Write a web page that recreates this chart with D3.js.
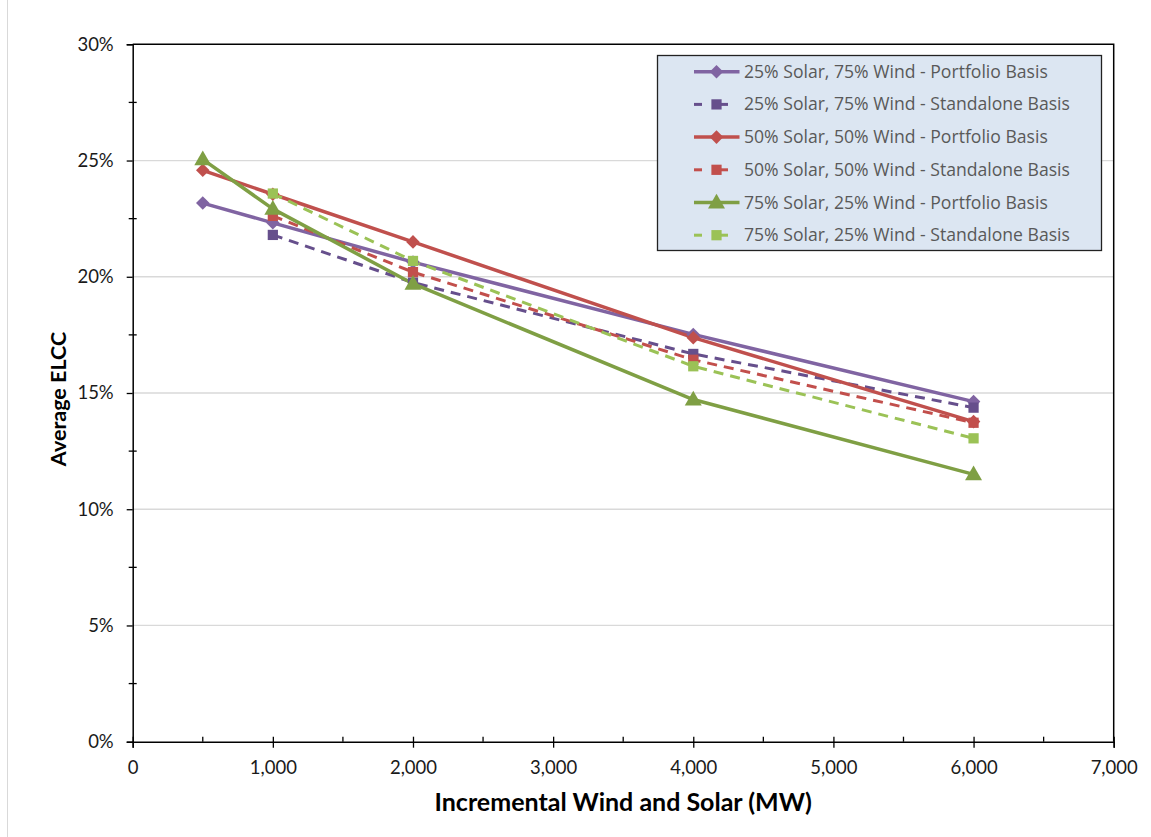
<!DOCTYPE html>
<html>
<head>
<meta charset="utf-8">
<script src="https://cdn.jsdelivr.net/npm/d3@7"></script>
<style>
  body { margin: 0; background: #fff; }
  svg { display: block; }
</style>
</head>
<body>
<svg id="chart" width="1151" height="837"></svg>
<script>
// Incremental capacity (MW)
const xValues = [500, 1000, 2000, 4000, 6000];

// Average ELCC by mix (fractions); standalone series start at 1,000 MW
const solar25Portfolio = [0.2317, 0.2232, 0.2063, 0.1752, 0.1463];
const solar25Standalone = [null, 0.2180, 0.1975, 0.1668, 0.1437];
const solar50Portfolio = [0.2458, 0.2355, 0.2150, 0.1738, 0.1377];
const solar50Standalone = [null, 0.2262, 0.2020, 0.1643, 0.1372];
const solar75Portfolio = [0.2505, 0.2292, 0.1970, 0.1472, 0.1150];
const solar75Standalone = [null, 0.2358, 0.2068, 0.1615, 0.1305];

const seriesNames = [
  "25% Solar, 75% Wind - Portfolio Basis",
  "25% Solar, 75% Wind - Standalone Basis",
  "50% Solar, 50% Wind - Portfolio Basis",
  "50% Solar, 50% Wind - Standalone Basis",
  "75% Solar, 25% Wind - Portfolio Basis",
  "75% Solar, 25% Wind - Standalone Basis"
];

const xTickValues = [0, 1000, 2000, 3000, 4000, 5000, 6000, 7000];
const yTickValues = [0, 0.05, 0.10, 0.15, 0.20, 0.25, 0.30];

const series = [
  { name: seriesNames[0], values: solar25Portfolio, color: "#8064a2", dashed: false, marker: "diamond" },
  { name: seriesNames[1], values: solar25Standalone, color: "#664f8c", dashed: true, marker: "square" },
  { name: seriesNames[2], values: solar50Portfolio, color: "#c0504d", dashed: false, marker: "diamond" },
  { name: seriesNames[3], values: solar50Standalone, color: "#c24f4c", dashed: true, marker: "square" },
  { name: seriesNames[4], values: solar75Portfolio, color: "#7f9f44", dashed: false, marker: "triangle" },
  { name: seriesNames[5], values: solar75Standalone, color: "#9bc256", dashed: true, marker: "square" }
];

const svg = d3.select("#chart");
const plot = { left: 132.7, right: 1113.7, top: 44.3, bottom: 741.7 };

const x = d3.scaleLinear().domain([0, 7000]).range([plot.left, plot.right]);
const y = d3.scaleLinear().domain([0, 0.30]).range([plot.bottom, plot.top]);

const tickFont = "Lato, 'Open Sans', sans-serif";

// Outer chart-area edge
svg.append("line")
  .attr("x1", 7.5).attr("x2", 7.5).attr("y1", 0).attr("y2", 837)
  .attr("stroke", "#d9d9d9").attr("stroke-width", 1);

// Horizontal gridlines
svg.append("g")
  .selectAll("line")
  .data(yTickValues.filter(d => d > 0 && d < 0.30))
  .join("line")
  .attr("x1", plot.left).attr("x2", plot.right)
  .attr("y1", d => y(d)).attr("y2", d => y(d))
  .attr("stroke", "#d9d9d9").attr("stroke-width", 1.3);

// Plot frame (top and right edges)
svg.append("path")
  .attr("d", `M${plot.left},${plot.top}H${plot.right}V${plot.bottom}`)
  .attr("fill", "none").attr("stroke", "#000").attr("stroke-width", 1.5);

// Y axis
const yAxis = d3.axisLeft(y)
  .tickValues(yTickValues)
  .tickFormat(d3.format(".0%"))
  .tickSize(6).tickPadding(13);
const gy = svg.append("g").attr("transform", `translate(${plot.left},0)`).call(yAxis);
gy.select(".domain").attr("stroke", "#000").attr("stroke-width", 1.5);
gy.selectAll(".tick line").attr("stroke", "#000").attr("stroke-width", 1.3);
gy.selectAll("text").attr("font-family", tickFont)
  .attr("font-size", 18.5).attr("fill", "#1a1a1a");

// Y minor ticks (crossing the axis)
svg.append("g").selectAll("line")
  .data(d3.range(0.025, 0.30, 0.05))
  .join("line")
  .attr("x1", plot.left - 4).attr("x2", plot.left + 4)
  .attr("y1", d => y(d)).attr("y2", d => y(d))
  .attr("stroke", "#000").attr("stroke-width", 1.3);

// X axis
const xAxis = d3.axisBottom(x)
  .tickValues(xTickValues)
  .tickFormat(d3.format(","))
  .tickSize(6).tickPadding(13);
const gx = svg.append("g").attr("transform", `translate(0,${plot.bottom})`).call(xAxis);
gx.select(".domain").attr("stroke", "#000").attr("stroke-width", 1.5);
gx.selectAll(".tick line").attr("y1", -5).attr("stroke", "#000").attr("stroke-width", 1.3);
gx.selectAll("text").attr("font-family", tickFont)
  .attr("font-size", 18.5).attr("fill", "#1a1a1a");

// X minor ticks (inside)
svg.append("g").selectAll("line")
  .data(d3.range(500, 7000, 1000))
  .join("line")
  .attr("x1", d => x(d)).attr("x2", d => x(d))
  .attr("y1", plot.bottom - 5).attr("y2", plot.bottom)
  .attr("stroke", "#000").attr("stroke-width", 1.3);

// Axis titles
svg.append("text")
  .attr("x", (plot.left + plot.right) / 2).attr("y", 811)
  .attr("text-anchor", "middle")
  .attr("font-family", tickFont)
  .attr("font-weight", "bold").attr("font-size", 25).attr("fill", "#000")
  .text("Incremental Wind and Solar (MW)");

svg.append("text")
  .attr("transform", `translate(66,${(plot.top + plot.bottom) / 2 + 6}) rotate(-90)`)
  .attr("text-anchor", "middle")
  .attr("font-family", tickFont)
  .attr("font-weight", "bold").attr("font-size", 21.5).attr("fill", "#000")
  .text("Average ELCC");

const line = d3.line()
  .defined(d => d[1] != null)
  .x(d => x(d[0]))
  .y(d => y(d[1]));

function markerPath(type) {
  if (type === "diamond") return d3.symbol().type(d3.symbolSquare).size(92)();
  if (type === "square") return d3.symbol().type(d3.symbolSquare).size(105)();
  return d3.symbol().type(d3.symbolTriangle).size(125)();
}
function markerTransform(type, cx, cy) {
  if (type === "diamond") return `translate(${cx},${cy}) rotate(45)`;
  if (type === "triangle") return `translate(${cx},${cy + 1})`;
  return `translate(${cx},${cy})`;
}

const gSeries = svg.append("g");
series.forEach(s => {
  const pts = xValues.map((xv, i) => [xv, s.values[i]]);
  gSeries.append("path")
    .datum(pts)
    .attr("d", line)
    .attr("fill", "none")
    .attr("stroke", s.color)
    .attr("stroke-width", s.dashed ? 3 : 3.5)
    .attr("stroke-dasharray", s.dashed ? "10,7" : null)
    .attr("stroke-linejoin", "round");
});

series.forEach(s => {
  const pts = xValues.map((xv, i) => [xv, s.values[i]]).filter(d => d[1] != null);
  gSeries.append("g").selectAll("path")
    .data(pts)
    .join("path")
    .attr("d", markerPath(s.marker))
    .attr("transform", d => markerTransform(s.marker, x(d[0]), y(d[1])))
    .attr("fill", s.color);
});

// Legend
const legend = svg.append("g");
legend.append("rect")
  .attr("x", 657.5).attr("y", 55.5).attr("width", 444).attr("height", 195)
  .attr("fill", "#dce6f2").attr("stroke", "#222").attr("stroke-width", 1.3);

series.forEach((s, i) => {
  const cy = 71.7 + i * 32.7;
  const g = legend.append("g");
  if (s.dashed) {
    g.append("line").attr("x1", 694).attr("x2", 702).attr("y1", cy).attr("y2", cy)
      .attr("stroke", s.color).attr("stroke-width", 3);
    g.append("line").attr("x1", 712).attr("x2", 728).attr("y1", cy).attr("y2", cy)
      .attr("stroke", s.color).attr("stroke-width", 3);
  } else {
    g.append("line").attr("x1", 694).attr("x2", 739.5).attr("y1", cy).attr("y2", cy)
      .attr("stroke", s.color).attr("stroke-width", 3.5);
  }
  g.append("path")
    .attr("d", markerPath(s.marker))
    .attr("transform", markerTransform(s.marker, 716.5, cy))
    .attr("fill", s.color);
  g.append("text")
    .attr("x", 744).attr("y", cy + 6)
    .attr("font-family", "'Open Sans', 'Noto Sans', sans-serif")
    .attr("font-size", 17.6).attr("fill", "#595959")
    .text(s.name);
});
</script>
</body>
</html>
